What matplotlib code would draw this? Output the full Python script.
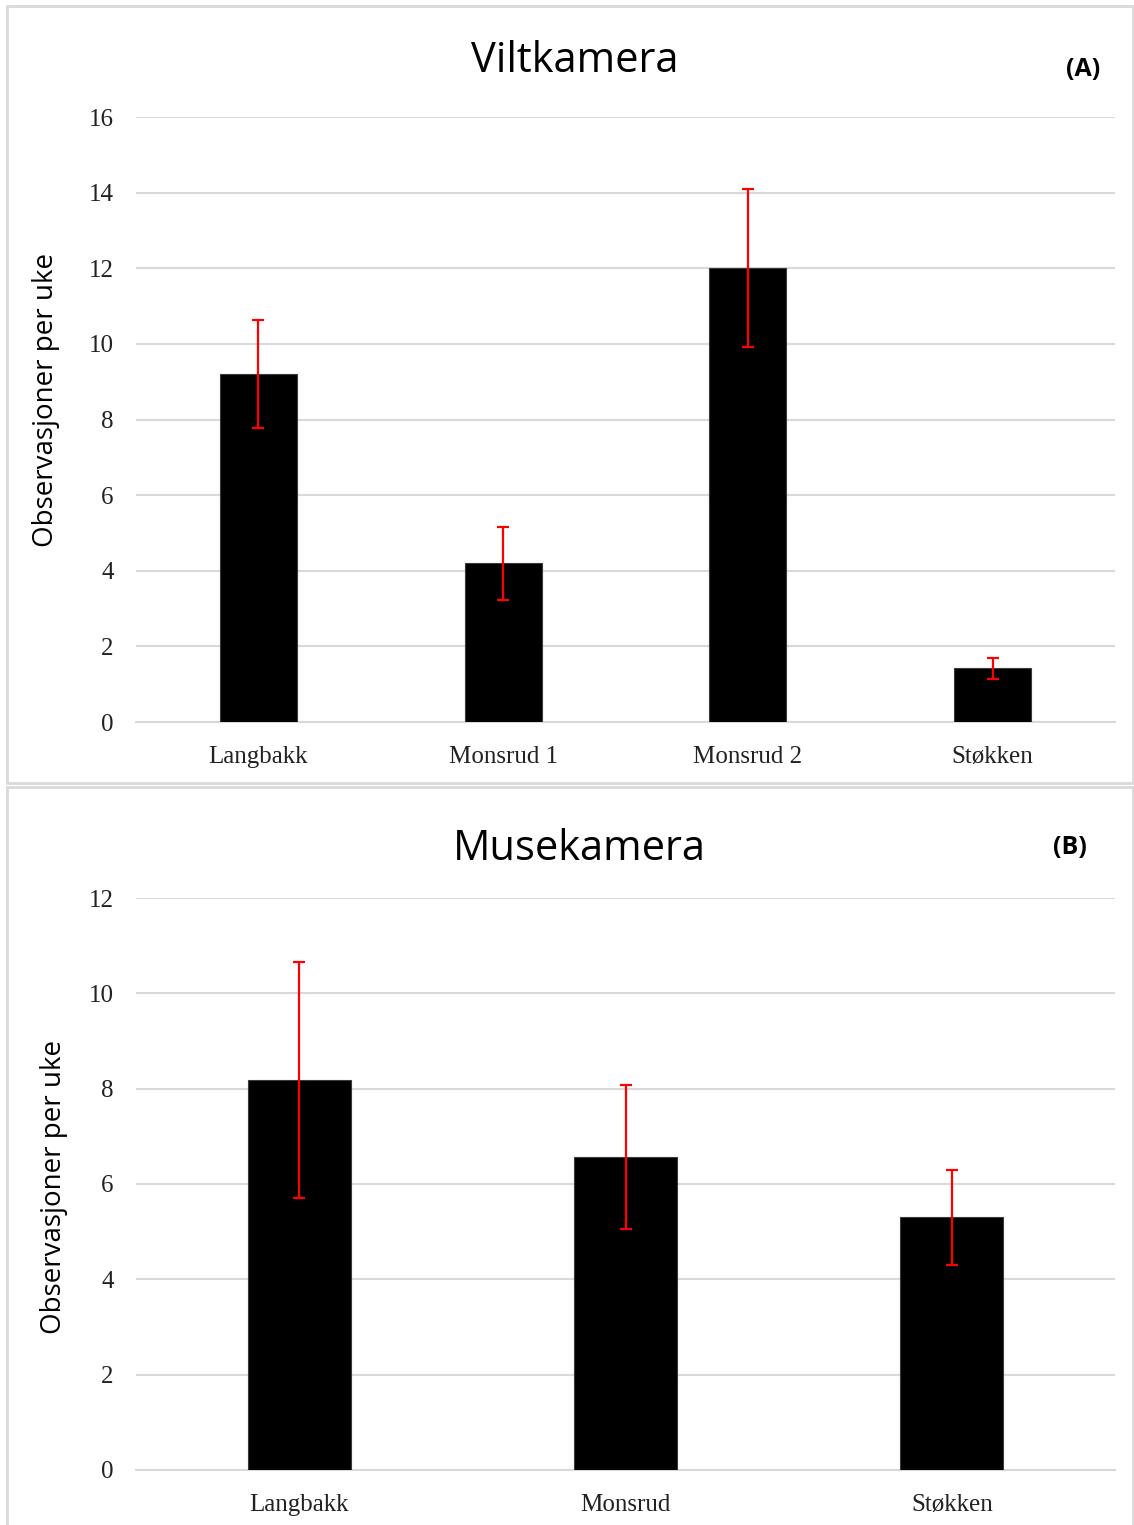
import matplotlib
matplotlib.use("Agg")
import matplotlib.pyplot as plt
from matplotlib.patches import Rectangle

# Data
cats_a = ["Langbakk", "Monsrud 1", "Monsrud 2", "Støkken"]
vals_a = [9.2, 4.2, 12.0, 1.42]
err_a = [1.43, 0.97, 2.09, 0.28]
yticks_a = [0, 2, 4, 6, 8, 10, 12, 14, 16]

cats_b = ["Langbakk", "Monsrud", "Støkken"]
vals_b = [8.18, 6.57, 5.3]
err_b = [2.48, 1.51, 0.99]
yticks_b = [0, 2, 4, 6, 8, 10, 12]

W, H = 1134, 1525
fig = plt.figure(figsize=(W / 100, H / 100), dpi=100)

def fx(px):
    return px / W

def fy(py):
    return 1 - py / H

# panel borders
for (x0, y0, x1, y1) in [(7, 6, 1133, 783), (7, 787, 1133, 1530)]:
    fig.patches.append(Rectangle((fx(x0), fy(y1)), fx(x1) - fx(x0), fy(y0) - fy(y1),
                                 transform=fig.transFigure, fill=False,
                                 edgecolor="#d9d9d9", linewidth=2, zorder=0))

serif = "Liberation Serif"
sans = "Open Sans"

def make_panel(rect, cats, vals, errs, yticks, title, tag, title_xy, tag_xy, ylab_xy):
    ax = fig.add_axes(rect)
    x = list(range(len(cats)))
    ax.bar(x, vals, width=0.315, color="black", edgecolor="#3a3a3a", linewidth=0.8, zorder=3)
    ax.errorbar(x, vals, yerr=errs, fmt="none", ecolor="red", elinewidth=1.6,
                capsize=4.5, capthick=1.6, zorder=4)
    ax.set_xlim(-0.5, len(cats) - 0.5)
    ax.set_ylim(yticks[0], yticks[-1])
    ax.set_yticks(yticks)
    ax.set_xticks(x)
    ax.set_xticklabels(cats, fontfamily=serif, fontsize=18)
    ax.set_yticklabels([str(t) for t in yticks], fontfamily=serif, fontsize=18)
    ax.yaxis.grid(True, color="#d9d9d9", linewidth=1.5, zorder=0)
    ax.set_axisbelow(True)
    for s in ["top", "right", "left"]:
        ax.spines[s].set_visible(False)
    ax.spines["bottom"].set_color("#d9d9d9")
    ax.spines["bottom"].set_linewidth(1.5)
    ax.tick_params(axis="both", length=0, colors="#222222")
    ax.tick_params(axis="y", pad=16)
    ax.tick_params(axis="x", pad=17)
    fig.text(fx(title_xy[0]), fy(title_xy[1]), title, fontfamily=sans, fontsize=30,
             ha="center", va="center")
    fig.text(fx(tag_xy[0]), fy(tag_xy[1]), tag, fontfamily=sans, fontsize=18,
             fontweight="bold", ha="center", va="center")
    fig.text(fx(ylab_xy[0]), fy(ylab_xy[1]), "Observasjoner per uke", fontfamily=sans,
             fontsize=20, rotation=90, ha="center", va="center")
    return ax

make_panel([fx(136), fy(722), fx(1115) - fx(136), fy(117) - fy(722)],
           cats_a, vals_a, err_a, yticks_a, "Viltkamera", "(A)",
           (575, 61), (1083, 69), (46, 400))
make_panel([fx(136), fy(1470), fx(1115) - fx(136), fy(898) - fy(1470)],
           cats_b, vals_b, err_b, yticks_b, "Musekamera", "(B)",
           (579, 849), (1070, 848), (54, 1187))

fig.savefig("out.png", dpi=100, facecolor="white")
